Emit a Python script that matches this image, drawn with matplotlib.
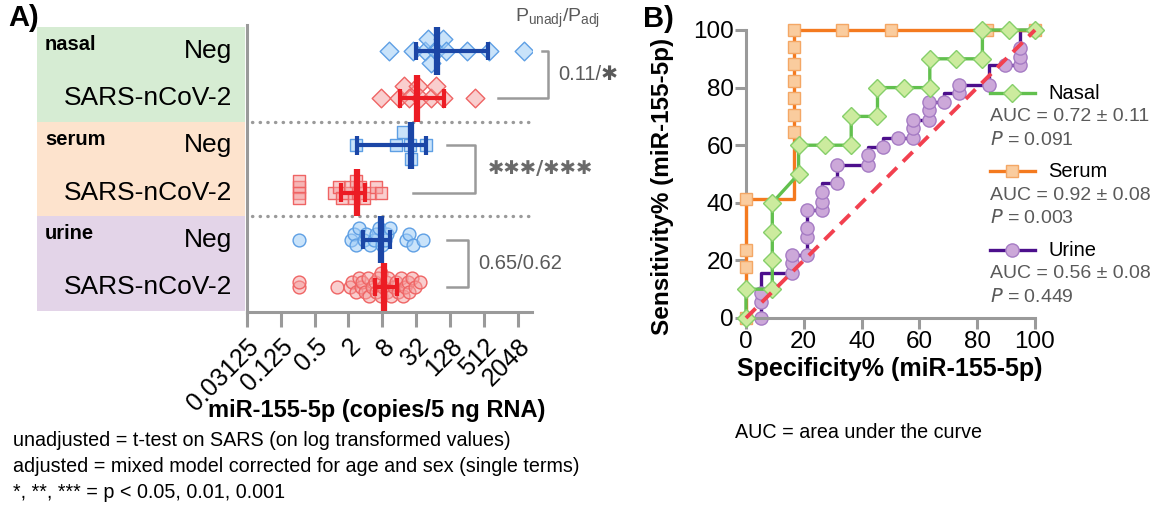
import numpy as np
import matplotlib
matplotlib.use("Agg")
import matplotlib.pyplot as plt
from matplotlib.patches import Rectangle

plt.rcParams["font.family"] = ["Liberation Sans", "DejaVu Sans"]

# ---------------- panel A data: miR-155-5p copies / 5 ng RNA ----------------
groups = ["nasal", "serum", "urine"]
row_labels = ["Neg", "SARS-nCoV-2", "Neg", "SARS-nCoV-2", "Neg", "SARS-nCoV-2"]

nasal_neg = [10.6, 27.9, 45.3, 52, 59.7, 73.5, 97, 111, 256, 630, 2700]
nasal_sars = [7.5, 16, 19.7, 24.3, 34.3, 36.8, 59.7, 73.5, 97, 362]
serum_neg = [2.7, 13.9, 18.4, 25.1, 26, 48.5]
serum_sars = [0.26, 0.26, 0.26, 0.26, 1.11, 1.37, 1.52, 1.87, 2.14, 2.46,
              2.73, 2.93, 3.25, 3.73, 4.92, 6.06, 7.46]
urine_neg = [0.26, 2.22, 2.46, 2.73, 3.03, 3.73, 4.14, 4.92, 5.66, 6.28,
             6.96, 8.0, 8.88, 9.85, 10.9, 21.1, 24.3, 27.9, 42.2]
urine_sars = [0.26, 0.26, 1.27, 2.14, 2.30, 2.73, 3.03, 3.36, 3.48, 4.0,
              4.44, 4.59, 5.28, 5.86, 6.06, 6.73, 7.46, 7.73, 8.28, 9.19,
              9.85, 10.2, 11.3, 13.0, 13.9, 15.5, 17.1, 18.4, 20.4, 22.6,
              24.3, 26.9, 30.9, 38.1]

# centre line and error bar ends, per row
centre = [75, 33.1, 25.5, 2.81, 7.62, 8.4]
err_lo = [32.2, 16.7, 2.81, 1.47, 3.58, 5.82]
err_hi = [596, 100, 48.5, 4.0, 10.8, 14.9]

p_texts = ["0.11/\u2731", "\u2731\u2731\u2731/\u2731\u2731\u2731", "0.65/0.62"]

# ---------------- panel B data: ROC curves (100-specificity %, sensitivity %) ----------------
nasal_x = [0, 0, 9.1, 9.1, 9.1, 9.1, 18.2, 18.2, 27.3, 36.4, 36.4, 45.5, 45.5,
           54.5, 63.6, 63.6, 72.7, 81.8, 81.8, 90.9, 100]
nasal_y = [0, 10, 10, 20, 30, 40, 50, 60, 60, 60, 70, 70, 80,
           80, 80, 90, 90, 90, 100, 100, 100]
nasal_corner = []

serum_x = [0, 0, 0, 0, 16.7, 16.7, 16.7, 16.7, 16.7, 16.7, 16.7, 16.7,
           33.3, 50, 83.3, 100]
serum_y = [0, 17.6, 23.5, 41.2, 41.2, 64.7, 70.6, 76.5, 82.4, 88.2, 94.1, 100,
           100, 100, 100, 100]
serum_corner = [4]

urine_x = [5.3, 5.3, 5.3, 5.3, 15.8, 15.8, 15.8, 21.1, 21.1, 21.1, 21.1,
           26.3, 26.3, 26.3, 26.3, 31.6, 31.6, 42.1, 42.1, 42.1, 47.4, 47.4,
           52.6, 57.9, 57.9, 57.9, 63.2, 63.2, 63.2, 68.4, 68.4, 73.7, 73.7,
           84.2, 84.2, 89.5, 94.7, 94.7, 94.7, 94.7, 100]
urine_y = [0, 5.7, 8.6, 15.5, 15.5, 19.0, 21.9, 21.9, 28.2, 31.1, 37.5,
           37.5, 40.4, 43.9, 46.8, 46.8, 53.1, 53.1, 56.6, 59.5, 59.5, 62.4,
           62.4, 62.4, 65.9, 68.8, 68.8, 72.2, 75.1, 75.1, 78.0, 78.0, 80.9,
           80.9, 87.8, 87.8, 87.8, 90.7, 93.6, 100, 100]
urine_corner = [3, 14, 19, 21, 30, 34, 39]

roc_names = ["Nasal", "Serum", "Urine"]
roc_auc = ["AUC = 0.72 \u00b1 0.11", "AUC = 0.92 \u00b1 0.08", "AUC = 0.56 \u00b1 0.08"]
roc_p = ["0.091", "0.003", "0.449"]

# ---------------- styling ----------------
W, H = 1157, 522
GREY = "#9a9a9a"
TXT_GREY = "#5a5a5a"
BLUE, RED = "#1b46a6", "#ec1c24"
BLUE_FACE, BLUE_EDGE = (0.62, 0.80, 0.97, 0.55), "#5e9fe4"
RED_FACE, RED_EDGE = (0.96, 0.62, 0.62, 0.5), "#ef6464"
BOX_COLS = ["#d6ecd3", "#fde3cd", "#e3d4e8"]


def box(x0, y0, x1, y1):
    return [x0 / W, 1 - y1 / H, (x1 - x0) / W, (y1 - y0) / H]


def swarm(vals, step, width=0.55):
    # simple beeswarm: pick the first free vertical slot among close neighbours
    lv = np.log2(vals)
    pattern = [0, -1, 1, -2, 2, -3, 3]
    offs = np.zeros(len(lv))
    placed = []
    for i in np.argsort(lv, kind="stable"):
        used = [offs[j] for j in placed if abs(lv[j] - lv[i]) < width]
        slot = None
        for p in pattern:
            if not any(abs(u - p * step) < 1e-9 for u in used):
                slot = p * step
                break
        if slot is None:
            slot = pattern[len(used) % len(pattern)] * step
        offs[i] = slot
        placed.append(i)
    return offs


fig = plt.figure(figsize=(W / 100, H / 100), dpi=100)

# ================= panel A =================
axA = fig.add_axes(box(247, 25, 532, 312))
axA.set_xscale("log", base=2)
axA.set_xlim(2 ** -5, 2 ** 11.85)
axA.set_ylim(5.53, -0.55)

series = [nasal_neg, nasal_sars, serum_neg, serum_sars, urine_neg, urine_sars]
markers = ["D", "D", "s", "s", "o", "o"]
sizes = [90, 90, 80, 80, 85, 85]
steps = [0.26, 0.26, 0.28, 0.12, 0.12, 0.1]

for r, vals in enumerate(series):
    neg = r % 2 == 0
    face, edge, c = (BLUE_FACE, BLUE_EDGE, BLUE) if neg else (RED_FACE, RED_EDGE, RED)
    y = r + swarm(vals, steps[r])
    axA.scatter(vals, y, marker=markers[r], s=sizes[r], facecolor=face,
                edgecolor=edge, linewidth=1.0, zorder=2)
    axA.plot([err_lo[r], err_hi[r]], [r, r], color=c, lw=3, zorder=3,
             solid_capstyle="butt")
    for e in (err_lo[r], err_hi[r]):
        axA.plot([e, e], [r - 0.2, r + 0.2], color=c, lw=3, zorder=3,
                 solid_capstyle="butt")
    axA.plot([centre[r], centre[r]], [r - 0.5, r + 0.5], color=c, lw=4.5,
             zorder=4, solid_capstyle="butt")

# group boxes and row labels on the left
tY = axA.get_yaxis_transform()
for g, name in enumerate(groups):
    axA.add_patch(Rectangle((-0.737, 2 * g - 0.5), 0.73, 2.0, transform=tY,
                            facecolor=BOX_COLS[g], edgecolor="none",
                            clip_on=False, zorder=0))
    axA.text(-0.709, 2 * g - 0.13, name, transform=tY, fontsize=14.5,
             fontweight="bold", ha="left", va="center")
for r, lab in enumerate(row_labels):
    axA.text(-0.053, r, lab, transform=tY, fontsize=19, ha="right", va="center")

# dotted separators
for ysep in (1.5, 3.5):
    axA.plot([0.018, 1.0], [ysep, ysep], transform=tY, color=GREY, lw=2.4,
             linestyle=(0, (0.1, 2.2)), dash_capstyle="round", clip_on=False)

# significance brackets
brackets = [(1.034, 0.881, 1.056), (0.702, 0.582, 0.800), (0.702, 0.702, 0.775)]
text_x = [1.091, 0.846, 0.810]
for g, (x_top, x_bot, x_v) in enumerate(brackets):
    y0, y1 = 2 * g, 2 * g + 1
    axA.plot([x_top, x_v, x_v, x_bot], [y0, y0, y1, y1], transform=tY,
             color=GREY, lw=1.8, clip_on=False)
for g, t in enumerate(p_texts):
    if g == 1:
        axA.text(text_x[g], 2 * g + 0.5, t, transform=tY, fontsize=14,
                 fontweight="bold", color="#6a6a6a", ha="left", va="center",
                 family=["DejaVu Sans"])
    else:
        axA.text(text_x[g], 2 * g + 0.5, t, transform=tY, fontsize=14.5,
                 color=TXT_GREY, ha="left", va="center")

axA.text(0.94, -0.7, r"P$_{\mathregular{unadj}}$/P$_{\mathregular{adj}}$",
         transform=tY, fontsize=14, color=TXT_GREY, ha="left", va="center")

ticks = [2.0 ** k for k in range(-5, 12, 2)]
axA.set_xticks(ticks)
axA.set_xticklabels(["0.03125", "0.125", "0.5", "2", "8", "32", "128", "512", "2048"],
                    rotation=45, ha="right", va="top", rotation_mode="anchor")
axA.xaxis.set_minor_locator(matplotlib.ticker.NullLocator())
axA.set_yticks([])
axA.tick_params(axis="x", length=11, width=2.2, color=GREY, labelsize=18, pad=5)
for s in ("top", "right"):
    axA.spines[s].set_visible(False)
for s in ("left", "bottom"):
    axA.spines[s].set_color(GREY)
    axA.spines[s].set_linewidth(2.2)

fig.text(377 / W, 1 - 411 / H, "miR-155-5p (copies/5 ng RNA)", fontsize=17,
         fontweight="bold", ha="center", va="center")

notes = ["unadjusted = t-test on SARS (on log transformed values)",
         "adjusted = mixed model corrected for age and sex (single terms)",
         "*, **, *** = p < 0.05, 0.01, 0.001"]
for i, line in enumerate(notes):
    fig.text(13 / W, 1 - (440 + 26 * i) / H, line, fontsize=14.2,
             ha="left", va="center")

fig.text(8 / W, 1 - 18 / H, "A)", fontsize=21, fontweight="bold", ha="left", va="center")
fig.text(643 / W, 1 - 19 / H, "B)", fontsize=21, fontweight="bold", ha="left", va="center")

# ================= panel B =================
axB = fig.add_axes(box(746, 30, 1035, 318))
axB.set_xlim(0, 100)
axB.set_ylim(0, 100)

roc = [
    (nasal_x, nasal_y, nasal_corner, "#62c04e", "D", 9.5, (0.80, 0.92, 0.62), "#86cf6a"),
    (serum_x, serum_y, serum_corner, "#f47a1f", "s", 9.0, (0.98, 0.80, 0.62), "#f4a765"),
    (urine_x, urine_y, urine_corner, "#4c0f8c", "o", 9.5, (0.80, 0.66, 0.85), "#a67cc4"),
]
zorders = [4, 3, 2]
handles = []
for (xs, ys, corner, lc, mk, ms, mf, me), z in zip(roc, zorders):
    every = [i for i in range(len(xs)) if i not in corner]
    axB.plot(xs, ys, color=lc, lw=2.4, marker=mk, markersize=ms,
             markerfacecolor=mf, markeredgecolor=me, markeredgewidth=1.0,
             markevery=every, clip_on=False, zorder=z)
    handles.append((lc, mk, ms, mf, me))

axB.plot([0, 100], [0, 100], color="#f2404f", lw=2.8, linestyle=(0, (3.5, 2.2)),
         zorder=5, clip_on=False)

# custom legend
leg_y = [0.781, 0.510, 0.236]
for i, (lc, mk, ms, mf, me) in enumerate(handles):
    y = leg_y[i]
    axB.plot([0.844, 1.0], [y, y], transform=axB.transAxes, color=lc, lw=2.4,
             clip_on=False, zorder=6)
    axB.plot([0.922], [y], transform=axB.transAxes, marker=mk, markersize=ms,
             markerfacecolor=mf, markeredgecolor=me, clip_on=False, zorder=7)
    axB.text(1.045, y, roc_names[i], transform=axB.transAxes, fontsize=14.5,
             ha="left", va="center")
    axB.text(0.844, y - 0.083, roc_auc[i], transform=axB.transAxes, fontsize=14,
             color=TXT_GREY, ha="left", va="center")
    axB.text(0.844, y - 0.163, "$\\mathit{P}$ = " + roc_p[i], transform=axB.transAxes,
             fontsize=14, color=TXT_GREY, ha="left", va="center")

axB.set_xticks(range(0, 101, 20))
axB.set_yticks(range(0, 101, 20))
axB.tick_params(length=8, width=2.2, color=GREY, labelsize=17.5, pad=1)
for s in ("top", "right"):
    axB.spines[s].set_visible(False)
for s in ("left", "bottom"):
    axB.spines[s].set_color(GREY)
    axB.spines[s].set_linewidth(2.2)

fig.text(890 / W, 1 - 369 / H, "Specificity% (miR-155-5p)", fontsize=18,
         fontweight="bold", ha="center", va="center")
fig.text(663 / W, 1 - 186 / H, "Sensitivity% (miR-155-5p)", fontsize=17.5,
         fontweight="bold", ha="center", va="center", rotation=90)
fig.text(735 / W, 1 - 432 / H, "AUC = area under the curve", fontsize=14.2,
         ha="left", va="center")

fig.savefig("out.png", dpi=100)
